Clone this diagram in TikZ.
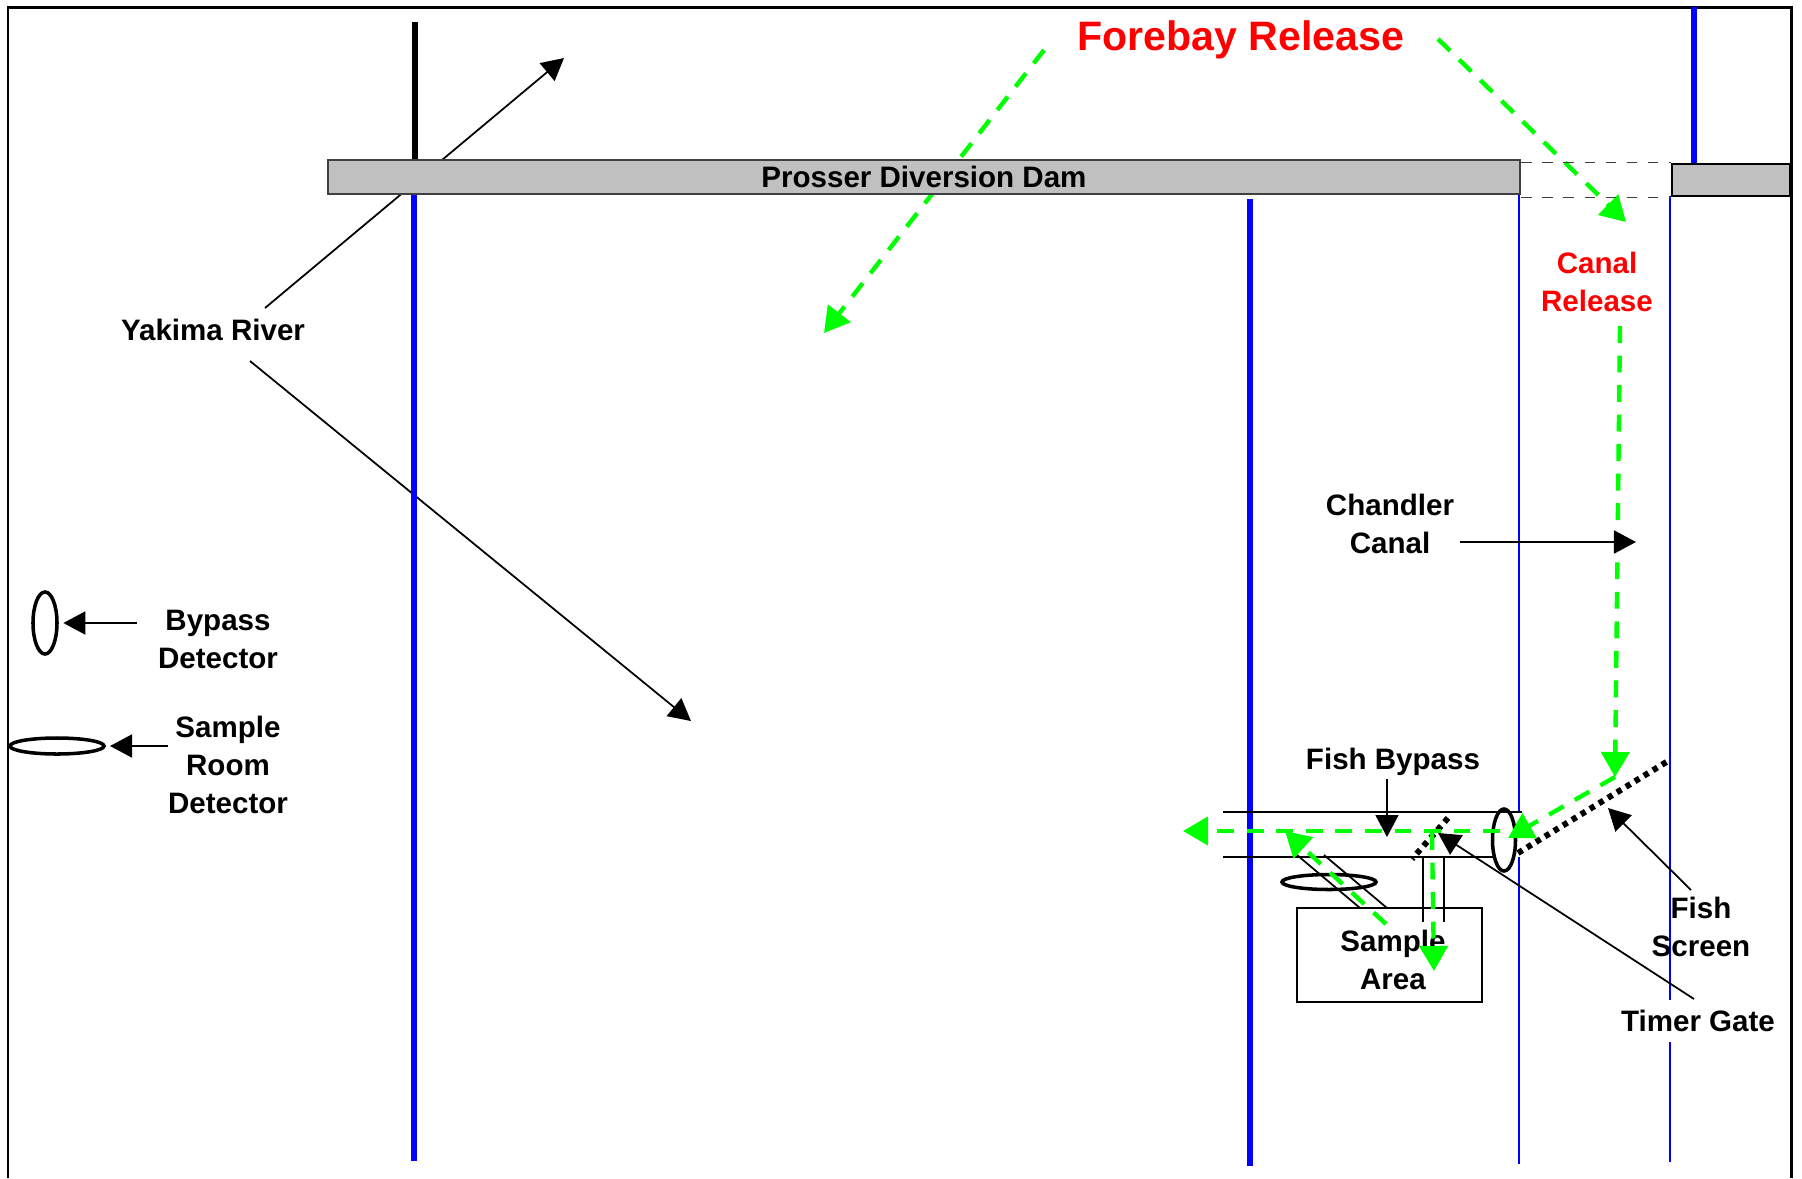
\documentclass[tikz,border=0pt]{standalone}
\usepackage{fontspec}
\setmainfont{Liberation Sans}
\usepackage{xcolor}
\usetikzlibrary{arrows.meta,shapes.geometric,positioning}

\definecolor{flowgreen}{RGB}{0,255,0}
\definecolor{damgray}{RGB}{192,192,192}
\definecolor{damline}{RGB}{64,64,64}

\begin{document}
\begin{tikzpicture}[x=0.01cm, y=-0.01cm,
    lbl/.style={font=\fontsize{8.4}{10.8}\selectfont\bfseries, align=center, inner sep=0pt},
    redlbl/.style={lbl, text=red},
    pointer/.style={line width=0.5pt, -{Triangle[length=0.22cm, width=0.23cm]}},
    flow/.style={flowgreen, line width=1.25pt, dash pattern=on 4.8pt off 3.6pt, -{Triangle[length=0.25cm, width=0.28cm]}},
    river/.style={blue, line width=1.5pt},
    bank/.style={blue, line width=0.6pt},
    screen/.style={line width=1.7pt, dash pattern=on 1.5pt off 1.5pt},
    detector/.style={ellipse, draw, line width=1pt, inner sep=0pt}]
    \useasboundingbox (0,0) rectangle (1802,1178);
    \draw[line width=0.85pt] (8,1178) -- (8,7) -- (1791,7) -- (1791,1178);

    % river arrows and releases run under the dam
    \coordinate (yupA) at (265,308);
    \coordinate (yupB) at (564,58);
    \coordinate (ydnA) at (250,361);
    \coordinate (ydnB) at (691,721);
    \draw[pointer] (yupA) -- (yupB);
    \draw[pointer] (ydnA) -- (ydnB);
    \coordinate (foreL) at (1044,50);
    \coordinate (foreLtip) at (824,333);
    \coordinate (foreR) at (1438,39);
    \coordinate (foreRtip) at (1626,222);
    \draw[flow] (foreL) -- (foreLtip);
    \draw[flow] (foreR) -- (foreRtip);

    \draw[line width=1.5pt] (415,22) -- (415,160);
    \draw[river] (414,194) -- (414,1161);
    \draw[river] (1250,199) -- (1250,1166);
    \draw[bank] (1519,194) -- (1519,812);
    \draw[bank] (1519,857) -- (1519,1164);
    \draw[bank] (1670,196) -- (1670,1162);
    \draw[river] (1694,7) -- (1694,164);

    \node(dam) [rectangle, draw=damline, fill=damgray, line width=0.5pt, minimum width=11.92cm, minimum height=0.34cm, lbl] at (924,177) {Prosser Diversion Dam};
    \node(dam2) [rectangle, draw, fill=damgray, line width=0.7pt, minimum width=1.18cm, minimum height=0.32cm] at (1731,180) {};
    \draw[damline, line width=0.4pt, dashed] (dam.east |- dam2.north) -- (dam2.north west);
    \draw[damline, line width=0.4pt, dashed] (dam.east |- dam2.south) -- (dam2.south west);

    \node(fore) [redlbl, font=\fontsize{11.7}{14}\selectfont\bfseries, anchor=base] at (1241,50) {Forebay Release};
    \node(canrel) [redlbl, anchor=base] at (1597,311) {Canal\\Release};
    \node(yak) [lbl, anchor=base] at (213,340) {Yakima River};
    \node(chand) [lbl, anchor=base] at (1390,553) {Chandler\\Canal};
    \node(bplbl) [lbl, anchor=base] at (218,668) {Bypass\\Detector};
    \node(srlbl) [lbl, anchor=base] at (228,813) {Sample\\Room\\Detector};
    \node(fblbl) [lbl, anchor=base] at (1393,769) {Fish Bypass};
    \node(fslbl) [lbl, anchor=base] at (1701,956) {Fish\\Screen};

    \node(bdet) [detector, minimum width=0.24cm, minimum height=0.62cm] at (45,623) {};
    \node(sdet) [detector, minimum width=0.94cm, minimum height=0.16cm] at (57,746) {};

    % bypass pipe, chutes and sample area
    \draw[line width=0.5pt] (1223,812) -- (1522,812);
    \draw[line width=0.5pt] (1223,857) -- (1494,857);
    \draw[line width=0.5pt] (1297,855) -- (1360,908);
    \draw[line width=0.5pt] (1324,855) -- (1387,908);
    \draw[line width=0.5pt] (1423,857) -- (1423,922);
    \draw[line width=0.5pt] (1444,857) -- (1444,922);
    \node(sbox) [rectangle, draw, line width=0.6pt, minimum width=1.85cm, minimum height=0.94cm] at (1389.5,955) {};
    \node(sboxlbl) [lbl, anchor=base] at (1393,989) {Sample\\Area};
    \node(pdet) [detector, minimum width=0.23cm, minimum height=0.62cm] at (1504,840) {};
    \node(cdet) [detector, minimum width=0.94cm, minimum height=0.15cm] at (1329,882) {};
    \draw[screen] (1448,818) -- (1412,859);
    \draw[screen] (1518,853) -- (1668,761);

    \coordinate (crA) at (1620,326);
    \coordinate (crB) at (1615,777);
    \coordinate (scrTip) at (1508,838);
    \coordinate (pipeA) at (1500,831);
    \coordinate (pipeB) at (1183,831);
    \coordinate (smpA) at (1386,924);
    \coordinate (smpB) at (1285,831);
    \coordinate (tgA) at (1432,833);
    \coordinate (tgB) at (1434,971);
    \draw[flow] (crA) -- (crB);
    \draw[flow] (crB) -- (scrTip);
    \draw[flow] (pipeA) -- (pipeB);
    \draw[flow] (smpA) -- (smpB);
    \draw[flow] (tgA) -- (tgB);

    \node(tglbl) [lbl, fill=white, minimum height=0.42cm, inner xsep=3pt] at (1698,1021) {Timer Gate};

    \coordinate (bdA) at (137,623);
    \coordinate (sdA) at (168,746);
    \coordinate (chA) at (1460,542);
    \coordinate (chB) at (1636,542);
    \coordinate (fbA) at (1387,779);
    \coordinate (fbB) at (1387,837);
    \coordinate (fsA) at (1691,890);
    \coordinate (fsB) at (1608,808);
    \coordinate (tgC) at (1694,999);
    \coordinate (tgD) at (1438,833);
    \draw[pointer, shorten >=1.3pt] (bdA) -- (bdet);
    \draw[pointer, shorten >=1.2pt] (sdA) -- (sdet);
    \draw[pointer] (chA) -- (chB);
    \draw[pointer] (fbA) -- (fbB);
    \draw[pointer] (fsA) -- (fsB);
    \draw[pointer] (tgC) -- (tgD);
\end{tikzpicture}
\end{document}
